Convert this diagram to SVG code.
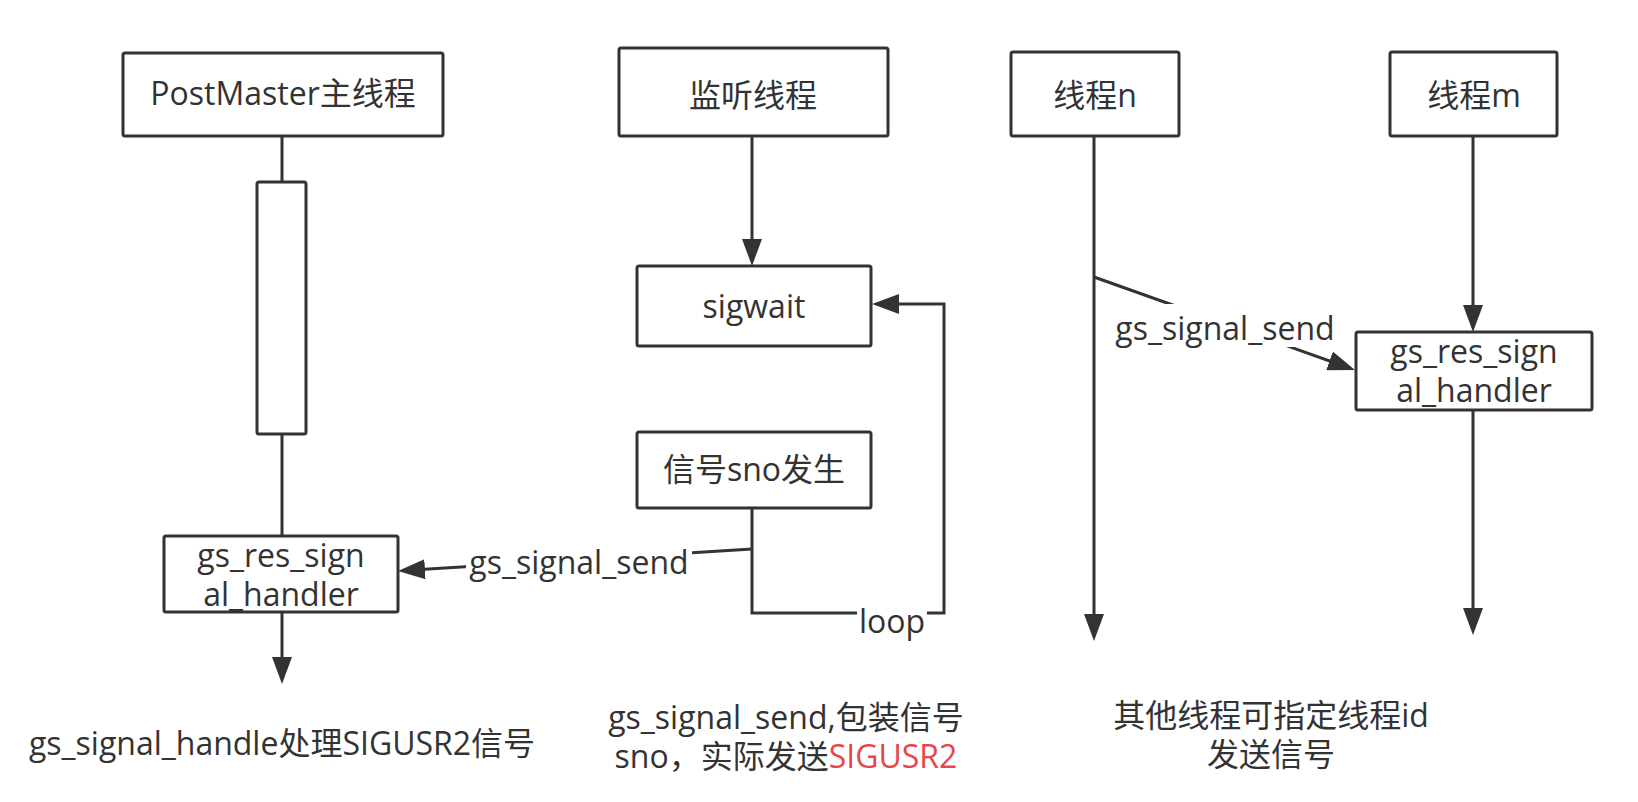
<svg xmlns="http://www.w3.org/2000/svg" width="1638" height="802" viewBox="0 0 1638 802">
<defs>
<style>
.box{fill:#fff;stroke:#333;stroke-width:3;}
.ln{fill:none;stroke:#333;stroke-width:3;}
.t{font-family:"Open Sans","Noto Sans CJK SC",sans-serif;font-size:32px;fill:#333;text-anchor:middle;}
.bg{fill:#fff;}
.red{fill:#e8464a;}
</style>
<marker id="ah" markerUnits="userSpaceOnUse" markerWidth="27" markerHeight="20" viewBox="0 0 27 20" refX="21" refY="10" orient="auto"><path d="M0,0 L27,10 L0,20 Z" fill="#333"/></marker>
</defs>
<rect width="1638" height="802" fill="#fff"/>
<g id="connectors">
<path class="ln" d="M282,136 V182"/>
<path class="ln" d="M282,434 V536"/>
<path class="ln" d="M282,612 V678" marker-end="url(#ah)"/>
<path class="ln" d="M752,136 V260" marker-end="url(#ah)"/>
<path class="ln" d="M752,508 V613 H944 V304 H878" marker-end="url(#ah)"/>
<path class="ln" d="M752,549 L404,570.6" marker-end="url(#ah)"/>
<path class="ln" d="M1094,136 V635" marker-end="url(#ah)"/>
<path class="ln" d="M1094,277 L1349.3,368" marker-end="url(#ah)"/>
<path class="ln" d="M1473,136 V326" marker-end="url(#ah)"/>
<path class="ln" d="M1473,410 V629" marker-end="url(#ah)"/>
<g id="label-loop"><rect class="bg" x="857" y="603" width="70" height="36"/><text class="t" x="892" y="633">loop</text></g>
<g id="label-send-left"><rect class="bg" x="466" y="550" width="226" height="34"/><text class="t" x="579" y="574">gs_signal_send</text></g>
<g id="label-send-right"><rect class="bg" x="1113" y="304" width="225" height="43"/><text class="t" x="1225" y="340">gs_signal_send</text></g>
</g>
<g id="postmaster"><rect class="box" x="123" y="53" width="320" height="83" rx="2"/><text class="t" x="283" y="105">PostMaster主线程</text></g>
<g id="activation"><rect class="box" x="257" y="182" width="49" height="252" rx="2"/></g>
<g id="handler-left"><rect class="box" x="164" y="536" width="234" height="76" rx="2"/><text class="t" x="281" y="567">gs_res_sign</text><text class="t" x="281" y="606">al_handler</text></g>
<g id="listener"><rect class="box" x="619" y="48" width="269" height="88" rx="2"/><text class="t" x="753" y="107">监听线程</text></g>
<g id="sigwait"><rect class="box" x="637" y="266" width="234" height="80" rx="2"/><text class="t" x="754" y="318">sigwait</text></g>
<g id="signal-occur"><rect class="box" x="637" y="432" width="234" height="76" rx="2"/><text class="t" x="754" y="481">信号sno发生</text></g>
<g id="thread-n"><rect class="box" x="1011" y="52" width="168" height="84" rx="2"/><text class="t" x="1095" y="107">线程n</text></g>
<g id="thread-m"><rect class="box" x="1390" y="52" width="167" height="84" rx="2"/><text class="t" x="1474" y="107">线程m</text></g>
<g id="handler-right"><rect class="box" x="1356" y="332" width="236" height="78" rx="2"/><text class="t" x="1474" y="363">gs_res_sign</text><text class="t" x="1474" y="402">al_handler</text></g>
<g id="note-left"><text class="t" x="282" y="755">gs_signal_handle处理SIGUSR2信号</text></g>
<g id="note-middle"><text class="t" x="786" y="729">gs_signal_send,包装信号</text><text class="t" x="786" y="768">sno，实际发送<tspan class="red">SIGUSR2</tspan></text></g>
<g id="note-right"><text class="t" x="1271" y="727">其他线程可指定线程id</text><text class="t" x="1271" y="766">发送信号</text></g>
</svg>
